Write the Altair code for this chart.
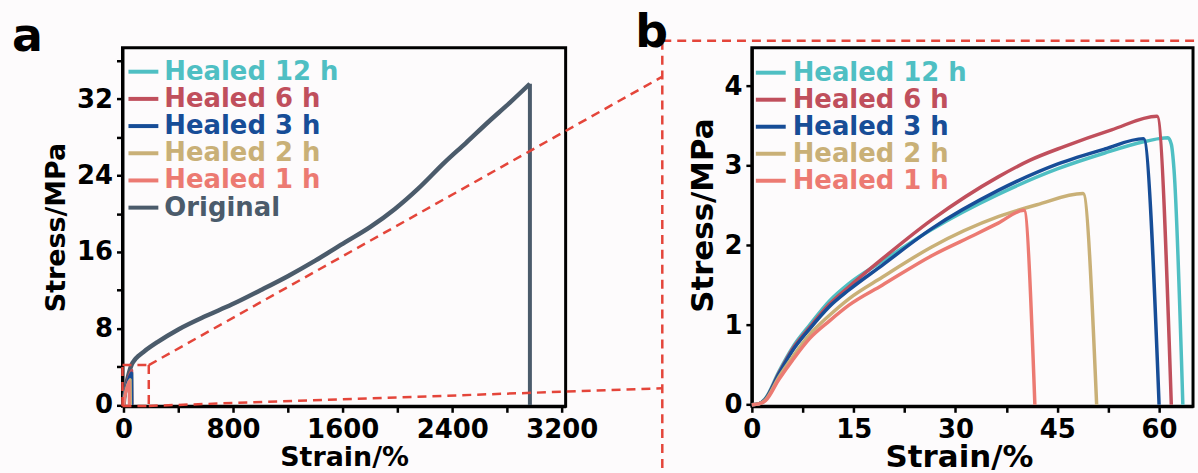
import altair as alt
import pandas as pd

FONT = "DejaVu Sans"

names_b = ["Healed 12 h", "Healed 6 h", "Healed 3 h", "Healed 2 h", "Healed 1 h"]
names_a = names_b + ["Original"]
colors_b = ["#4fbfc3", "#c04f5c", "#174d97", "#c9b077", "#ec7a72"]
colors_a = colors_b + ["#4b5b6b"]
dash_color = "#e4453a"

# ---- curves (strain %, stress MPa) ----
h12_strain = [0, 1, 2, 4, 6, 8.5, 11.4, 14.3, 19.2, 26.5, 36.3, 45, 52, 57.7, 60, 61.3, 61.8, 62.2, 63.5]
h12_stress = [0, 0.01, 0.08, 0.42, 0.72, 1.0, 1.3, 1.52, 1.8, 2.2, 2.64, 2.96, 3.16, 3.3, 3.34, 3.35, 3.27, 2.95, 0]
h6_strain = [0, 1, 2, 4, 6, 8.5, 11.4, 14.3, 19.2, 26.5, 36.3, 41, 46, 53, 59.7, 61.8]
h6_stress = [0, 0.01, 0.07, 0.4, 0.7, 0.97, 1.26, 1.48, 1.83, 2.32, 2.86, 3.07, 3.24, 3.45, 3.62, 0]
h3_strain = [0, 1, 2, 4, 6, 8.5, 11.4, 14.3, 19.2, 26.5, 36.3, 45, 52, 57.7, 60.0]
h3_stress = [0, 0.01, 0.07, 0.39, 0.68, 0.95, 1.23, 1.44, 1.75, 2.21, 2.69, 3.02, 3.21, 3.34, 0]
h2_strain = [0, 1, 2, 4, 6, 8.5, 11.4, 14.3, 19.2, 26.5, 36.3, 42, 48.8, 50.8]
h2_stress = [0, 0.01, 0.06, 0.35, 0.6, 0.88, 1.12, 1.33, 1.6, 1.98, 2.36, 2.51, 2.65, 0]
h1_strain = [0, 1, 2, 4, 6, 8.5, 11.4, 14.3, 19.2, 26.5, 33, 36.3, 40.1, 41.7]
h1_stress = [0, 0.01, 0.05, 0.32, 0.56, 0.83, 1.05, 1.25, 1.5, 1.87, 2.14, 2.28, 2.44, 0]
# original: loading branch, then the break (vertical drop)
orig_strain = [0, 5, 12, 22, 40, 58, 80, 107, 150, 250, 400, 600, 789, 1000, 1203, 1400,
               1617, 1800, 1982, 2150, 2347, 2500, 2664, 2820, 2968]
orig_stress = [0, 0.8, 1.5, 2.3, 3.4, 4.2, 4.7, 5.1, 5.6, 6.6, 7.9, 9.3, 10.5, 12.0, 13.5, 15.1,
               17.0, 18.6, 20.5, 22.6, 25.4, 27.4, 29.6, 31.6, 33.6]
orig_break_strain = [2968, 2968]
orig_break_stress = [33.6, 0]

healed = [
    (h12_strain, h12_stress),
    (h6_strain, h6_stress),
    (h3_strain, h3_stress),
    (h2_strain, h2_stress),
    (h1_strain, h1_stress),
]

# ---- zoom box and connector segments in panel (a) data units ----
seg_x1 = [-8, 184, -8, -8, 184, 184, 3935, 3935]
seg_y1 = [4.17, 4.17, -0.1, -0.1, 4.17, -0.1, 38.1, 38.1]
seg_x2 = [184, 184, -8, 184, 3935, 3935, 3935, 7825]
seg_y2 = [4.17, -0.1, 4.17, -0.1, 34.34, 1.74, -7.5, 38.1]

# ---- axes ----
xa_ticks = list(range(0, 3201, 400))
ya_ticks = list(range(0, 37, 4))
xb_ticks = [0, 7.5, 15, 22.5, 30, 37.5, 45, 52.5, 60]
yb_ticks = [0, 0.5, 1, 1.5, 2, 2.5, 3, 3.5, 4, 4.5]


def df_curve(sx, sy):
    return pd.DataFrame({"strain": sx, "stress": sy, "i": list(range(len(sx)))})


def axis(values, mod, title, is_x, **kw):
    return alt.Axis(
        values=values,
        labelExpr=f"datum.value % {mod} == 0 ? datum.label : ''",
        format="d",
        title=title,
        labelFlush=False,
        labelOverlap=False,
        tickSize=6,
        labelPadding=4,
        grid=False,
        **kw,
    )


def legend_layers(names, colors, sym_x, text_x, y_top, y_bot):
    ldf = pd.DataFrame({"name": names, "color": colors})
    yenc = alt.Y("name:N", scale=alt.Scale(type="point", domain=names, range=[y_top, y_bot], padding=0), axis=None)
    sym = alt.Chart(ldf).mark_rule(strokeWidth=4).encode(
        x=alt.value(sym_x), x2=alt.value(sym_x + 30), y=yenc,
        color=alt.Color("color:N", scale=None))
    txt = alt.Chart(ldf).mark_text(align="left", baseline="middle", font=FONT, fontSize=26,
                                   fontWeight="bold").encode(
        x=alt.value(text_x), y=yenc, text="name:N", color=alt.Color("color:N", scale=None))
    return [sym, txt]


def panel_label(letter, x, y):
    return alt.Chart(pd.DataFrame({"t": [letter]})).mark_text(
        align="left", baseline="top", font=FONT, fontSize=46, fontWeight="bold", color="black"
    ).encode(text="t:N", x=alt.value(x), y=alt.value(y))


# ---------------- panel a ----------------
xsa = alt.Scale(domain=[-8, 3229], nice=False, zero=False)
ysa = alt.Scale(domain=[-0.14, 37.36], nice=False, zero=False)
axa_x = axis(xa_ticks, 800, "Strain/%", True, titlePadding=2, titleFontSize=27)
axa_y = axis(ya_ticks, 8, "Stress/MPa", False, titlePadding=6, titleFontSize=27)


def enc_a(ch):
    return ch.encode(x=alt.X("strain:Q", scale=xsa, axis=axa_x),
                     y=alt.Y("stress:Q", scale=ysa, axis=axa_y), order="i:Q")


layers_a = [
    enc_a(alt.Chart(df_curve(orig_strain, orig_stress)).mark_line(
        color=colors_a[5], strokeWidth=4.5, strokeJoin="round", interpolate="monotone")),
    enc_a(alt.Chart(df_curve(orig_break_strain, orig_break_stress)).mark_line(
        color=colors_a[5], strokeWidth=4, strokeJoin="round")),
]
for (sx, sy), c in zip(healed, colors_b):
    layers_a.append(enc_a(alt.Chart(df_curve(sx, sy)).mark_line(color=c, strokeWidth=3, strokeJoin="round")))
seg_df = pd.DataFrame({"x1": seg_x1, "y1": seg_y1, "x2": seg_x2, "y2": seg_y2})
layers_a.append(
    alt.Chart(seg_df).mark_rule(color=dash_color, strokeWidth=2.5, strokeDash=[9, 6], clip=False).encode(
        x=alt.X("x1:Q", scale=xsa, axis=axa_x), x2="x2:Q",
        y=alt.Y("y1:Q", scale=ysa, axis=axa_y), y2="y2:Q"))

panel_a = alt.layer(
    alt.layer(*layers_a),
    alt.layer(*legend_layers(names_a, colors_a, 6, 42, 24, 160.5), panel_label("a", -111, -33)),
).resolve_scale(y="independent").properties(width=445, height=360)

# ---------------- panel b ----------------
xsb = alt.Scale(domain=[0, 65], nice=False, zero=False)
ysb = alt.Scale(domain=[-0.02, 4.48], nice=False, zero=False)
axb_x = axis(xb_ticks, 15, "Strain/%", True, titlePadding=0, titleFontSize=31, titleX=208)
axb_y = axis(yb_ticks, 1, "Stress/MPa", False, titlePadding=4, titleFontSize=31, titleY=168)

layers_b = []
for (sx, sy), c in zip(healed, colors_b):
    layers_b.append(
        alt.Chart(df_curve(sx, sy)).mark_line(color=c, strokeWidth=3.5, strokeJoin="round",
                                              interpolate="monotone").encode(
            x=alt.X("strain:Q", scale=xsb, axis=axb_x),
            y=alt.Y("stress:Q", scale=ysb, axis=axb_y), order="i:Q"))

panel_b = alt.layer(
    alt.layer(*layers_b),
    alt.layer(*legend_layers(names_b, colors_b, 4, 41, 25, 133.5), panel_label("b", -117, -37)),
).resolve_scale(y="independent").properties(width=443, height=360)

chart = alt.hconcat(panel_a, panel_b, spacing=187, bounds="flush").properties(
    padding={"left": 10, "top": 7, "right": 0, "bottom": 0},
    background="#fdfbfc",
).configure_view(stroke="black", strokeWidth=3).configure_axis(
    domainColor="black", domainWidth=3, tickColor="black", tickWidth=2.5,
    labelFont=FONT, labelFontSize=26, labelFontWeight="bold", labelColor="black",
    titleFont=FONT, titleFontWeight="bold", titleColor="black",
)

chart.save("out.html", embed_options={"renderer": "svg", "actions": False})
